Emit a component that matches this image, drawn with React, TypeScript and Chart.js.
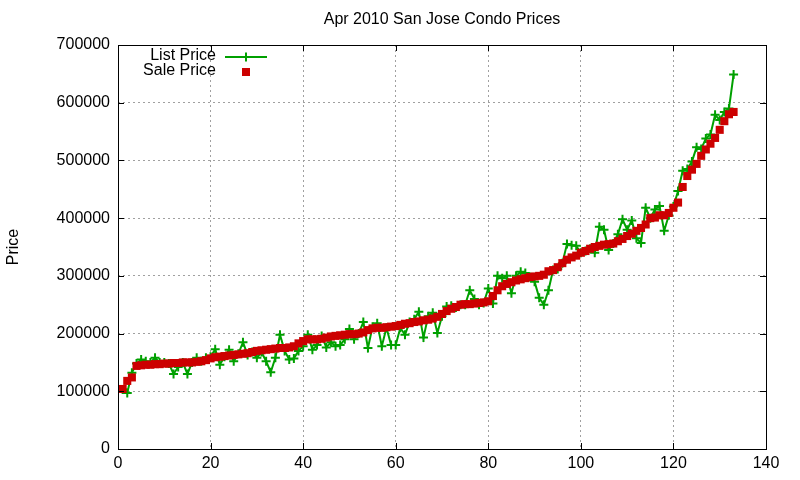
import React, { useEffect, useRef } from 'react';
import { Chart, registerables } from 'chart.js';

Chart.register(...registerables);

const chartTitle = 'Apr 2010 San Jose Condo Prices';
const yAxisTitle = 'Price';
const seriesNames = ['List Price', 'Sale Price'];

const listPrice = [
  103000, 97000, 132000, 148000, 155000, 152000, 150000, 158000, 150000, 150000,
  148000, 130000, 142000, 150000, 130000, 150000, 158000, 152000, 158000, 160000,
  173000, 146000, 160000, 172000, 152000, 165000, 185000, 163000, 168000, 158000,
  168000, 152000, 133000, 158000, 198000, 170000, 155000, 157000, 170000, 178000,
  198000, 172000, 180000, 196000, 176000, 185000, 178000, 180000, 190000, 208000,
  190000, 200000, 220000, 175000, 212000, 218000, 178000, 210000, 180000, 180000,
  210000, 198000, 220000, 225000, 238000, 193000, 230000, 236000, 201000, 230000,
  247000, 248000, 245000, 250000, 250000, 275000, 260000, 250000, 253000, 278000,
  252000, 300000, 296000, 300000, 270000, 300000, 307000, 305000, 298000, 290000,
  262000, 250000, 275000, 310000, 312000, 322000, 355000, 353000, 352000, 340000,
  343000, 347000, 340000, 385000, 380000, 345000, 356000, 372000, 398000, 380000,
  396000, 365000, 357000, 418000, 400000, 415000, 421000, 378000, 405000, 420000,
  447000, 482000, 485000, 498000, 523000, 520000, 538000, 545000, 579000, 570000,
  584000, 590000, 649000,
];

const salePrice = [
  104000, 118000, 124000, 144000, 145000, 146000, 146000, 147000, 147000, 148000,
  148000, 149000, 149000, 150000, 150000, 150000, 151000, 152000, 154000, 157000,
  159000, 160000, 161000, 162000, 163000, 164000, 165000, 166000, 168000, 170000,
  171000, 172000, 173000, 174000, 175000, 175000, 176000, 178000, 183000, 187000,
  190000, 190000, 190000, 191000, 193000, 195000, 196000, 197000, 198000, 199000,
  199000, 200000, 202000, 206000, 209000, 210000, 210000, 211000, 212000, 213000,
  215000, 217000, 218000, 220000, 221000, 223000, 224000, 226000, 229000, 234000,
  239000, 243000, 246000, 250000, 251000, 251000, 252000, 253000, 254000, 256000,
  265000, 275000, 282000, 286000, 289000, 292000, 294000, 296000, 298000, 299000,
  300000, 302000, 308000, 310000, 315000, 322000, 328000, 332000, 335000, 340000,
  343000, 347000, 350000, 352000, 354000, 355000, 356000, 360000, 364000, 369000,
  373000, 378000, 383000, 389000, 400000, 401000, 405000, 405000, 409000, 418000,
  427000, 454000, 473000, 484000, 494000, 508000, 519000, 529000, 539000, 553000,
  568000, 580000, 584000,
];

const xTicks = [0, 20, 40, 60, 80, 100, 120, 140];
const yTicks = [0, 100000, 200000, 300000, 400000, 500000, 600000, 700000];

const GREEN = '#00a000';
const RED = '#cc0000';
const FONT = '"Liberation Sans", Arial, sans-serif';
const FS = 16;

const decorPlugin = {
  id: 'gnuplotDecor',
  afterDraw(chart: any) {
    const { ctx, chartArea } = chart;
    const { left, right, top, bottom } = chartArea;
    const xs = chart.scales.x;
    const ys = chart.scales.y;
    ctx.save();
    ctx.strokeStyle = '#000';
    ctx.lineWidth = 1;
    // inward ticks, mirrored
    const tl = 6;
    ctx.beginPath();
    yTicks.forEach((v) => {
      const py = Math.round(ys.getPixelForValue(v)) + 0.5;
      ctx.moveTo(left, py);
      ctx.lineTo(left + tl, py);
      ctx.moveTo(right, py);
      ctx.lineTo(right - tl, py);
    });
    xTicks.forEach((v) => {
      const px = Math.round(xs.getPixelForValue(v)) + 0.5;
      ctx.moveTo(px, bottom);
      ctx.lineTo(px, bottom - tl);
      ctx.moveTo(px, top);
      ctx.lineTo(px, top + tl);
    });
    ctx.stroke();
    // border
    ctx.strokeRect(Math.round(left) + 0.5, Math.round(top) + 0.5, Math.round(right - left), Math.round(bottom - top));

    // legend
    ctx.font = FS + 'px ' + FONT;
    ctx.fillStyle = '#000';
    ctx.textAlign = 'right';
    ctx.textBaseline = 'middle';
    const textX = left + 98;
    const row1 = top + 11;
    const row2 = top + 26;
    ctx.fillText(seriesNames[0], textX, row1);
    ctx.fillText(seriesNames[1], textX, row2);
    const sx1 = left + 107;
    const sx2 = left + 149;
    const mid = (sx1 + sx2) / 2;
    ctx.strokeStyle = GREEN;
    ctx.lineWidth = 2;
    ctx.beginPath();
    ctx.moveTo(sx1, row1 + 1);
    ctx.lineTo(sx2, row1 + 1);
    ctx.moveTo(mid, row1 + 1 - 4.5);
    ctx.lineTo(mid, row1 + 1 + 4.5);
    ctx.stroke();
    ctx.fillStyle = RED;
    ctx.fillRect(mid - 4, row2 + 1 - 4, 8, 8);
    ctx.restore();
  },
};

export default function App() {
  const canvasRef = useRef<HTMLCanvasElement | null>(null);

  useEffect(() => {
    document.body.style.margin = '0';
    const canvas = canvasRef.current;
    if (!canvas) return;
    const chart = new Chart(canvas, {
      type: 'line',
      data: {
        datasets: [
          {
            label: seriesNames[1],
            data: salePrice.map((v, i) => ({ x: i + 1, y: v })),
            showLine: false,
            pointStyle: 'rect',
            pointRadius: 5.7,
            pointBorderWidth: 0,
            pointBackgroundColor: RED,
            pointBorderColor: RED,
            backgroundColor: RED,
            borderColor: RED,
            order: 0,
          },
          {
            label: seriesNames[0],
            data: listPrice.map((v, i) => ({ x: i + 1, y: v })),
            borderColor: GREEN,
            backgroundColor: GREEN,
            borderWidth: 2,
            pointStyle: 'cross',
            pointRadius: 4.5,
            pointBorderWidth: 2,
            pointBorderColor: GREEN,
            tension: 0,
            order: 1,
          },
        ],
      },
      options: {
        responsive: false,
        animation: false,
        devicePixelRatio: 1,
        layout: { padding: { left: 0, right: 34, top: 0, bottom: 0 } },
        plugins: {
          legend: { display: false },
          tooltip: { enabled: false },
          title: {
            display: true,
            text: chartTitle,
            color: '#000',
            fullSize: false,
            font: { family: FONT, size: FS, weight: 'normal' },
            padding: { top: 10, bottom: 15.8 },
          },
        },
        scales: {
          x: {
            type: 'linear',
            min: 0,
            max: 140,
            afterBuildTicks: (scale: any) => {
              scale.ticks = xTicks.map((v) => ({ value: v }));
            },
            afterFit: (scale: any) => {
              scale.height = 31;
            },
            ticks: {
              color: '#000',
              font: { family: FONT, size: FS },
              padding: 5,
              maxRotation: 0,
              callback: (v: any) => String(v),
            },
            grid: { color: '#a0a0a0', lineWidth: 1, drawTicks: false },
            border: { display: false, dash: [2, 3] },
          },
          y: {
            type: 'linear',
            min: 0,
            max: 700000,
            afterBuildTicks: (scale: any) => {
              scale.ticks = yTicks.map((v) => ({ value: v }));
            },
            afterFit: (scale: any) => {
              scale.width = 118;
            },
            ticks: {
              color: '#000',
              font: { family: FONT, size: FS },
              padding: 8,
              callback: (v: any) => String(v),
            },
            grid: { color: '#a0a0a0', lineWidth: 1, drawTicks: false },
            border: { display: false, dash: [2, 3] },
            title: {
              display: true,
              text: yAxisTitle,
              color: '#000',
              font: { family: FONT, size: FS, weight: 'normal' },
              padding: { top: 4, bottom: 0 },
            },
          },
        },
      },
      plugins: [decorPlugin],
    });
    return () => chart.destroy();
  }, []);

  return (
    <canvas
      ref={canvasRef}
      width={800}
      height={480}
      style={{ display: 'block', width: '800px', height: '480px' }}
    />
  );
}
